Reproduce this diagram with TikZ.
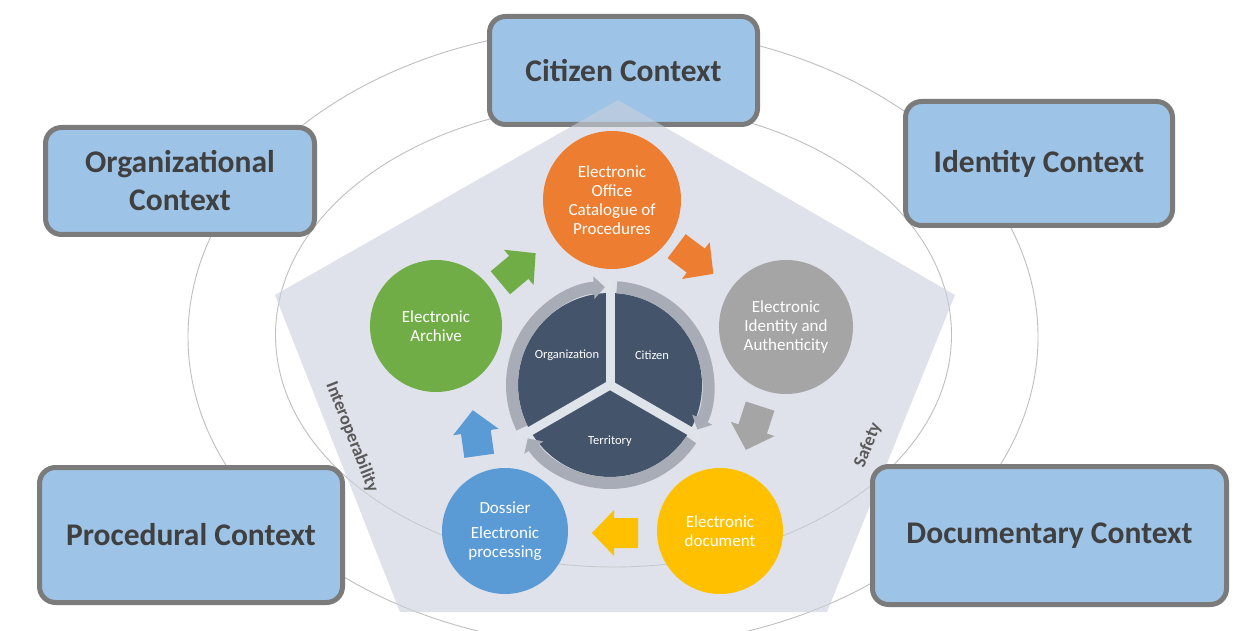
\documentclass[tikz,border=0pt]{standalone}
\usepackage{fontspec}
\setmainfont{Carlito}
\usetikzlibrary{arrows.meta}
\definecolor{boxfill}{HTML}{9DC3E6}
\definecolor{boxline}{HTML}{7B7B7B}
\definecolor{boxtext}{HTML}{404040}
\definecolor{pent}{RGB}{202,208,220}
\definecolor{ell}{HTML}{BFBFBF}
\definecolor{corange}{HTML}{ED7D31}
\definecolor{cgray}{HTML}{A5A5A5}
\definecolor{cyellow}{HTML}{FFC000}
\definecolor{cblue}{HTML}{5B9BD5}
\definecolor{cgreen}{HTML}{70AD47}
\definecolor{piedark}{HTML}{44546A}
\definecolor{ringcol}{HTML}{A7ACB6}
\definecolor{gapcol}{HTML}{DFE3EA}
\definecolor{edgetext}{HTML}{595959}
\tikzset{
  blockarrow/.pic={\path[pic actions] (-23,-15) -- (1,-15) -- (1,-23) -- (23,0) -- (1,23) -- (1,15) -- (-23,15) -- cycle;}
}
\begin{document}
\begin{tikzpicture}[x=1pt,y=1pt,
  ctx/.style={draw=boxline, line width=5pt, fill=boxfill, rounded corners=16pt, text=boxtext,
    font=\fontsize{31.5}{38}\selectfont\bfseries, align=center, inner sep=0pt},
  stage/.style={circle, inner sep=0pt, text=white, font=\fontsize{17}{19}\selectfont, align=center},
  sector/.style={text=white, font=\fontsize{12.5}{14}\selectfont, inner sep=0pt},
  edgelabel/.style={text=edgetext, font=\fontsize{18}{20}\selectfont\bfseries, inner sep=0pt},
  orbit/.style={draw=ell, line width=0.9pt},
  ringarc/.style={draw=ringcol, line width=12pt, -{Triangle[width=22pt,length=11pt]}},
  divider/.style={draw=gapcol, line width=9pt}
]
\useasboundingbox (0,0) rectangle (1245,630);
\fill[white] (0,0) rectangle (1245,630);

% orbits
\draw[orbit] (613,293) ellipse[x radius=425pt, y radius=310pt];
\draw[orbit] (613.5,295) ellipse[x radius=338pt, y radius=232pt];

% citizen box (under the pentagon)
\node[ctx, minimum width=268pt, minimum height=108pt] (cit) at (623.5,559.5) {Citizen Context};

% pentagon
\fill[fill=pent, fill opacity=0.6] (618,530) -- (955,335) -- (827,18) -- (400,18) -- (275,335) -- cycle;

% other context boxes
\node[ctx, minimum width=269pt, minimum height=107pt] (org) at (180,449) {Organizational\\Context};
\node[ctx, minimum width=267pt, minimum height=124pt] (ide) at (1039,466.5) {Identity Context};
\node[ctx, minimum width=303pt, minimum height=135pt] (pro) at (191,95) {Procedural Context};
\node[ctx, minimum width=354pt, minimum height=138pt] (doc) at (1049.5,94.5) {Documentary Context};

% edge labels
\node[edgelabel, rotate=-68.5] (interop) at (352,193) {Interoperability};
\node[edgelabel, rotate=68] (safety) at (868,185) {Safety};

% central pie
\coordinate (pc) at (610,245);
\fill[piedark] (pc) circle[radius=92pt];
\draw[ringarc] (pc) ++(206:98pt) arc[start angle=206, end angle=93, radius=98pt];
\draw[ringarc] (pc) ++(86:98pt) arc[start angle=86, end angle=-27, radius=98pt];
\draw[ringarc] (pc) ++(-34:98pt) arc[start angle=-34, end angle=-147, radius=98pt];
\draw[divider] (pc) -- ++(90:105pt);
\draw[divider] (pc) -- ++(210:105pt);
\draw[divider] (pc) -- ++(330:105pt);
\node[sector] (sorg) at (567,275) {Organization};
\node[sector] (scit) at (652,275) {Citizen};
\node[sector] (ster) at (610,189) {Territory};

% stage circles
\node[stage, fill=corange, minimum size=138pt] (office) at (612,430) {Electronic\\Office\\Catalogue of\\Procedures};
\node[stage, fill=cgray, minimum size=134pt] (ident) at (786,303) {Electronic\\Identity and\\Authenticity};
\node[stage, fill=cyellow, minimum size=126pt] (edoc) at (720,99) {Electronic\\document};
\node[stage, fill=cblue, minimum size=126pt] (doss) at (505,99) {Dossier\\[6pt]Electronic\\processing};
\node[stage, fill=cgreen, minimum size=132pt] (arch) at (436,304) {Electronic\\Archive};

% block arrows between stages
\pic[fill=cgreen, rotate=40] (a1) at (518,362) {blockarrow};
\pic[fill=corange, rotate=-37] (a2) at (695,370) {blockarrow};
\pic[fill=cgray, rotate=-108] (a3) at (753,202) {blockarrow};
\pic[fill=cyellow, rotate=180] (a4) at (615,97) {blockarrow};
\pic[fill=cblue, rotate=98] (a5) at (476,197) {blockarrow};
\end{tikzpicture}
\end{document}
